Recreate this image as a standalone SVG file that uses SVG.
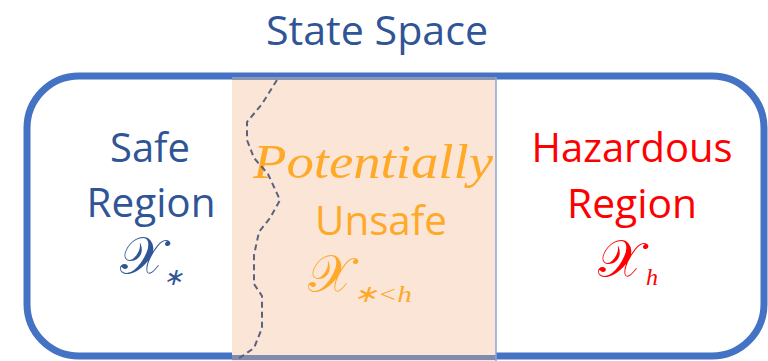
<svg xmlns="http://www.w3.org/2000/svg" width="768" height="361" viewBox="0 0 768 361">
<style>
.t{font-family:"Open Sans","Liberation Sans",sans-serif;font-size:40px;text-anchor:middle}
.m{font-family:"DejaVu Serif","Noto Sans",serif;font-size:52px}
.s{font-family:"Liberation Serif",serif;font-style:italic;font-size:24px}
.p{font-family:"Liberation Serif",serif;font-style:italic;font-size:48px}
.blue{fill:#2F5597}.red{fill:#FF0000}.org{fill:#FFA928}
</style>
<rect width="768" height="361" fill="#FFFFFF"/>
<g id="title"><text class="t blue" x="377" y="45" textLength="222" lengthAdjust="spacingAndGlyphs">State Space</text></g>
<g id="state-space">
<rect x="27" y="76" width="737" height="280" rx="52" ry="52" fill="none" stroke="#4472C4" stroke-width="7"/>
</g>
<g id="potentially-unsafe">
<rect x="232" y="77" width="264" height="284" fill="#FBE5D6"/>
<rect x="232" y="77" width="264" height="3" fill="#8A97B3"/>
<rect x="232" y="355" width="264" height="5" fill="#7F8CAD"/>
<line x1="496" y1="77" x2="496" y2="361" stroke="#8EA5D6" stroke-width="1.5"/>
<text class="p org" x="253" y="178" textLength="240" lengthAdjust="spacingAndGlyphs">Potentially</text>
<text class="t org" x="381" y="235" textLength="132" lengthAdjust="spacingAndGlyphs">Unsafe</text>
<text class="m org" x="308" y="292">𝒳</text>
<text class="s org" x="353" y="302" textLength="59" lengthAdjust="spacingAndGlyphs">∗&lt;h</text>
</g>
<g id="safe">
<text class="t blue" x="150" y="162" textLength="80" lengthAdjust="spacingAndGlyphs">Safe</text>
<text class="t blue" x="151" y="217" textLength="129" lengthAdjust="spacingAndGlyphs">Region</text>
<text class="m blue" x="120" y="274">𝒳</text>
<text class="s blue" x="163" y="285" font-size="20">∗</text>
</g>
<g id="hazardous">
<text class="t red" x="632" y="162" textLength="201" lengthAdjust="spacingAndGlyphs">Hazardous</text>
<text class="t red" x="632" y="218" textLength="130" lengthAdjust="spacingAndGlyphs">Region</text>
<text class="m red" x="598" y="277">𝒳</text>
<text class="s red" x="646" y="285">h</text>
</g>
<g id="connectors">
<path d="M277,80 L262,104 L247,122 L247,140 L254,158 L268,174 L280,200 L270,218 L259,232 L254,255 L254,284 L262,296 L262,328 L254,348 L238,359" fill="none" stroke="#5B6280" stroke-width="2" stroke-dasharray="6,4"/>
</g>
</svg>
